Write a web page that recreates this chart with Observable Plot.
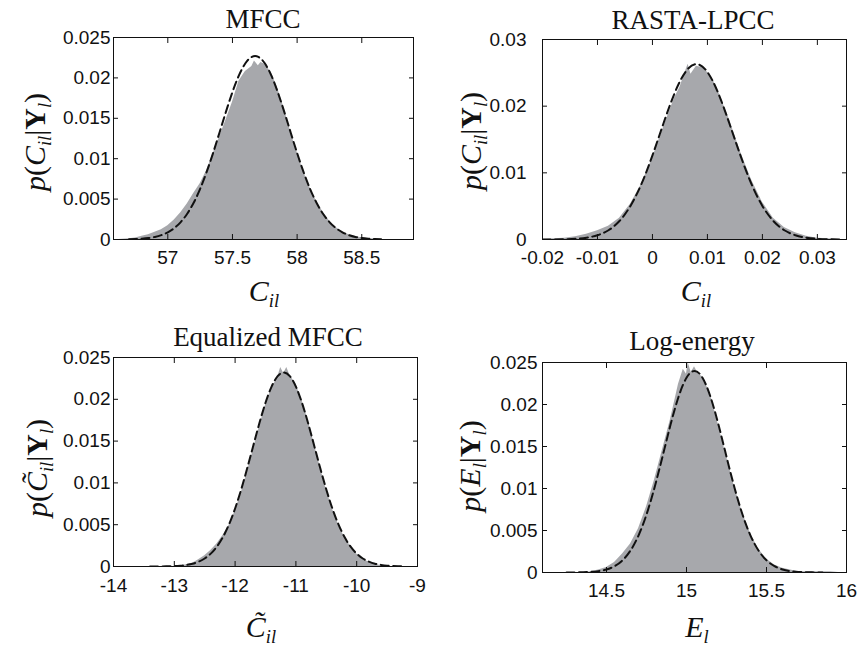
<!DOCTYPE html>
<html><head><meta charset="utf-8">
<script src="https://cdn.jsdelivr.net/npm/d3@7"></script>
<script src="https://cdn.jsdelivr.net/npm/@observablehq/plot@0.6"></script>
<style>
html,body{margin:0;padding:0;background:#fff;}
#chart{position:relative;width:860px;height:651px;background:#fff;overflow:hidden;}
.lbl{position:absolute;white-space:nowrap;line-height:1;color:#111;}
.title{font-family:"Liberation Serif","Times New Roman",serif;font-size:27px;transform:translateX(-50%);}
.math{font-family:"Liberation Serif","Times New Roman",serif;font-size:30px;}
.math i{font-style:italic;}
.math sub{font-size:0.62em;vertical-align:-0.3em;line-height:0;}
.math b{font-weight:bold;font-style:normal;}
.xl{transform:translateX(-50%);}
.yl{transform:translate(-50%,-50%) rotate(-90deg);}
.pn{position:absolute;}
</style></head>
<body><div id="chart"></div>
<script>
// ---------- data ----------
const mfccHist = [[56.62,0],[56.70,0.0001],[56.75,0.0002],[56.80,0.0004],[56.85,0.0006],[56.90,0.0009],[56.95,0.0012],[57.00,0.0017],[57.05,0.0024],[57.10,0.0033],[57.15,0.0044],[57.20,0.0057],[57.25,0.0069],[57.30,0.0085],[57.35,0.0106],[57.40,0.0127],[57.45,0.0148],[57.50,0.0170],[57.55,0.0196],[57.60,0.0208],[57.65,0.0214],[57.67,0.0221],[57.70,0.0215],[57.72,0.0219],[57.75,0.0217],[57.80,0.0207],[57.85,0.0187],[57.90,0.0162],[57.95,0.0133],[58.00,0.0108],[58.05,0.0084],[58.10,0.0064],[58.15,0.0047],[58.20,0.0034],[58.25,0.0023],[58.30,0.0015],[58.35,0.0010],[58.40,0.0006],[58.45,0.0004],[58.50,0.0002],[58.55,0.0001],[58.60,0.0001],[58.65,0]];
const mfccFit = [[56.70,0.00003],[56.75,0.00005],[56.80,0.0001],[56.85,0.00018],[56.90,0.00032],[56.95,0.00054],[57.00,0.00089],[57.05,0.00141],[57.10,0.00216],[57.15,0.00319],[57.20,0.00455],[57.25,0.00627],[57.30,0.00834],[57.35,0.0107],[57.40,0.01325],[57.45,0.01583],[57.50,0.01825],[57.55,0.02031],[57.60,0.02181],[57.65,0.0226],[57.70,0.0226],[57.75,0.02181],[57.80,0.02031],[57.85,0.01825],[57.90,0.01583],[57.95,0.01325],[58.00,0.0107],[58.05,0.00834],[58.10,0.00627],[58.15,0.00455],[58.20,0.00319],[58.25,0.00216],[58.30,0.00141],[58.35,0.00089],[58.40,0.00054],[58.45,0.00032],[58.50,0.00018],[58.55,0.0001],[58.60,0.00005],[58.65,0.00003]];

const rastaHist = [[-0.020,0],[-0.018,0.0001],[-0.016,0.0002],[-0.014,0.0004],[-0.012,0.0008],[-0.010,0.0013],[-0.008,0.0020],[-0.006,0.0032],[-0.004,0.0053],[-0.002,0.0083],[0.000,0.0122],[0.002,0.0168],[0.004,0.0212],[0.005,0.0228],[0.006,0.0252],[0.0065,0.0263],[0.007,0.0248],[0.008,0.0260],[0.009,0.0258],[0.010,0.0251],[0.011,0.0240],[0.012,0.0222],[0.014,0.0180],[0.016,0.0132],[0.018,0.0090],[0.020,0.0056],[0.022,0.0032],[0.024,0.0018],[0.026,0.0010],[0.028,0.0005],[0.030,0.0002],[0.032,0.0001],[0.034,0]];
const rastaFit = [[-0.020,0],[-0.018,0.00001],[-0.016,0.00004],[-0.014,0.0001],[-0.012,0.00027],[-0.010,0.00064],[-0.008,0.00139],[-0.006,0.00277],[-0.004,0.00504],[-0.002,0.00834],[0.000,0.01262],[0.002,0.0174],[0.004,0.02189],[0.006,0.02512],[0.008,0.0263],[0.010,0.02512],[0.012,0.02189],[0.014,0.0174],[0.016,0.01262],[0.018,0.00834],[0.020,0.00504],[0.022,0.00277],[0.024,0.00139],[0.026,0.00064],[0.028,0.00027],[0.030,0.0001],[0.032,0.00004],[0.034,0.00001]];

const eqHist = [[-13.0,0],[-12.9,0.0001],[-12.8,0.0002],[-12.7,0.0004],[-12.6,0.0008],[-12.5,0.0013],[-12.4,0.0019],[-12.3,0.0027],[-12.2,0.0037],[-12.1,0.0049],[-12.0,0.0066],[-11.9,0.0088],[-11.8,0.0113],[-11.7,0.0140],[-11.6,0.0167],[-11.5,0.0193],[-11.4,0.0213],[-11.3,0.0226],[-11.25,0.0238],[-11.2,0.0231],[-11.15,0.0238],[-11.1,0.0229],[-11.0,0.0218],[-10.9,0.0199],[-10.8,0.0175],[-10.7,0.0147],[-10.6,0.0119],[-10.5,0.0092],[-10.4,0.0069],[-10.3,0.0050],[-10.2,0.0035],[-10.1,0.0024],[-10.0,0.0015],[-9.9,0.0009],[-9.8,0.0005],[-9.7,0.0003],[-9.6,0.0001],[-9.5,0]];
const eqFit = [[-13.4,0],[-13.3,0.00001],[-13.2,0.00001],[-13.1,0.00003],[-13.0,0.00005],[-12.9,0.0001],[-12.8,0.00019],[-12.7,0.00033],[-12.6,0.00058],[-12.5,0.00096],[-12.4,0.00154],[-12.3,0.00237],[-12.2,0.00352],[-12.1,0.00504],[-12.0,0.00694],[-11.9,0.00921],[-11.8,0.01177],[-11.7,0.01448],[-11.6,0.01716],[-11.5,0.01958],[-11.4,0.02152],[-11.3,0.02277],[-11.2,0.0232],[-11.1,0.02277],[-11.0,0.02152],[-10.9,0.01958],[-10.8,0.01716],[-10.7,0.01448],[-10.6,0.01177],[-10.5,0.00921],[-10.4,0.00694],[-10.3,0.00504],[-10.2,0.00352],[-10.1,0.00237],[-10.0,0.00154],[-9.9,0.00096],[-9.8,0.00058],[-9.7,0.00033],[-9.6,0.00019],[-9.5,0.0001],[-9.4,0.00005],[-9.3,0.00003],[-9.2,0.00001]];

const energyHist = [[14.35,0],[14.40,0.0001],[14.45,0.0003],[14.50,0.0006],[14.55,0.0012],[14.60,0.0022],[14.65,0.0034],[14.70,0.0052],[14.75,0.0078],[14.80,0.0110],[14.85,0.0146],[14.90,0.0182],[14.95,0.0224],[14.98,0.0242],[15.00,0.0236],[15.01,0.0250],[15.03,0.0238],[15.05,0.0245],[15.075,0.0236],[15.10,0.0233],[15.15,0.0212],[15.20,0.0175],[15.25,0.0138],[15.30,0.0102],[15.35,0.0071],[15.40,0.0046],[15.45,0.0028],[15.50,0.0016],[15.55,0.0009],[15.60,0.0005],[15.65,0.0003],[15.70,0.0001],[15.75,0.0001],[15.80,0.0001],[15.85,0.0001],[15.90,0.0001],[15.95,0]];
const energyFit = [[14.25,0],[14.30,0.00001],[14.35,0.00003],[14.40,0.00007],[14.45,0.00016],[14.50,0.00036],[14.55,0.00075],[14.60,0.00145],[14.65,0.00262],[14.70,0.0044],[14.75,0.0069],[14.80,0.0101],[14.85,0.01379],[14.90,0.01758],[14.95,0.0209],[15.00,0.02318],[15.05,0.0240],[15.10,0.02318],[15.15,0.0209],[15.20,0.01758],[15.25,0.01379],[15.30,0.0101],[15.35,0.0069],[15.40,0.0044],[15.45,0.00262],[15.50,0.00145],[15.55,0.00075],[15.60,0.00036],[15.65,0.00016],[15.70,0.00007],[15.75,0.00003],[15.80,0.00001],[15.85,0]];

// tick values
const mfccXTicks = [57, 57.5, 58, 58.5];
const rastaXTicks = [-0.02, -0.01, 0, 0.01, 0.02, 0.03];
const eqXTicks = [-14, -13, -12, -11, -10, -9];
const energyXTicks = [14.5, 15, 15.5, 16];
const yTicks025 = [0, 0.005, 0.01, 0.015, 0.02, 0.025];
const yTicks03 = [0, 0.01, 0.02, 0.03];

const titles = ["MFCC", "RASTA-LPCC", "Equalized MFCC", "Log-energy"];

// ---------- drawing ----------
const chart = document.getElementById("chart");
const HIST = "#a7a8ac";
const INK = "#111";

function panel(cfg) {
  const svg = Plot.plot({
    width: cfg.w, height: cfg.h,
    marginLeft: cfg.ml, marginRight: cfg.mr, marginTop: cfg.mt, marginBottom: cfg.mb,
    style: {fontFamily: '"Liberation Sans", Arial, Helvetica, sans-serif', fontSize: "19px", color: INK, background: "transparent", overflow: "visible"},
    x: {domain: cfg.xDomain},
    y: {domain: cfg.yDomain},
    marks: [
      Plot.areaY(cfg.hist, {x: d => d[0], y: d => d[1], fill: HIST, curve: "linear", clip: true}),
      Plot.line(cfg.fit, {x: d => d[0], y: d => d[1], stroke: INK, strokeWidth: 2, strokeDasharray: "8,4.5", curve: "natural", clip: true}),
      Plot.frame({stroke: INK, strokeWidth: 1}),
      Plot.axisX(cfg.xTicks, {anchor: "bottom", tickSize: -5, tickPadding: cfg.xPad + 5, tickFormat: d => String(d), label: null, stroke: INK}),
      Plot.axisX(cfg.xTicks, {anchor: "top", tickSize: -5, tickFormat: () => "", label: null, stroke: INK}),
      Plot.axisY(cfg.yTicks, {anchor: "left", tickSize: -5, tickPadding: cfg.yPad + 5, tickFormat: d => String(d), label: null, stroke: INK}),
      Plot.axisY(cfg.yTicks, {anchor: "right", tickSize: -5, tickFormat: () => "", label: null, stroke: INK})
    ]
  });
  const wrap = document.createElement("div");
  wrap.className = "pn";
  wrap.style.left = cfg.left + "px";
  wrap.style.top = cfg.top + "px";
  wrap.appendChild(svg);
  chart.appendChild(wrap);
}

function label(html, cls, x, y) {
  const d = document.createElement("div");
  d.className = "lbl " + cls;
  d.style.left = x + "px";
  d.style.top = y + "px";
  d.innerHTML = html;
  chart.appendChild(d);
}

panel({left: 0, top: 0, w: 430, h: 325, ml: 113, mr: 17, mt: 37, mb: 86,
  xDomain: [56.58, 58.9], yDomain: [0, 0.025], xTicks: mfccXTicks, yTicks: yTicks025,
  hist: mfccHist, fit: mfccFit, xPad: 11, yPad: 3});
panel({left: 430, top: 0, w: 430, h: 325, ml: 112, mr: 14, mt: 39, mb: 86,
  xDomain: [-0.02, 0.0353], yDomain: [0, 0.03], xTicks: rastaXTicks, yTicks: yTicks03,
  hist: rastaHist, fit: rastaFit, xPad: 11, yPad: 16});
panel({left: 0, top: 325, w: 430, h: 326, ml: 113, mr: 13, mt: 32, mb: 85,
  xDomain: [-14, -9], yDomain: [0, 0.025], xTicks: eqXTicks, yTicks: yTicks025,
  hist: eqHist, fit: eqFit, xPad: 12, yPad: 3});
panel({left: 430, top: 325, w: 430, h: 326, ml: 112, mr: 14, mt: 37, mb: 79,
  xDomain: [14.1, 16], yDomain: [0, 0.025], xTicks: energyXTicks, yTicks: yTicks025,
  hist: energyHist, fit: energyFit, xPad: 11, yPad: 5});

// titles
label(titles[0], "title", 263, 6);
label(titles[1], "title", 693, 7);
label(titles[2], "title", 268, 324);
label(titles[3], "title", 692, 328);

// axis labels
const Cil = '<i>C</i><sub><i>il</i></sub>';
const Ctil = '<i>C\u0303</i><sub><i>il</i></sub>';
const El = '<i>E</i><sub><i>l</i></sub>';
const Yl = '<b>Y</b><sub><i>l</i></sub>';
label(Cil, "math xl", 264, 276);
label(Cil, "math xl", 696, 276);
label(Ctil, "math xl", 261, 612);
label(El, "math xl", 697, 612);
label('<i>p</i>(' + Cil + '|' + Yl + ')', "math yl", 35, 142);
label('<i>p</i>(' + Cil + '|' + Yl + ')', "math yl", 471, 141);
label('<i>p</i>(' + Ctil + '|' + Yl + ')', "math yl", 37, 468);
label('<i>p</i>(' + El + '|' + Yl + ')', "math yl", 470, 466);
</script></body></html>
